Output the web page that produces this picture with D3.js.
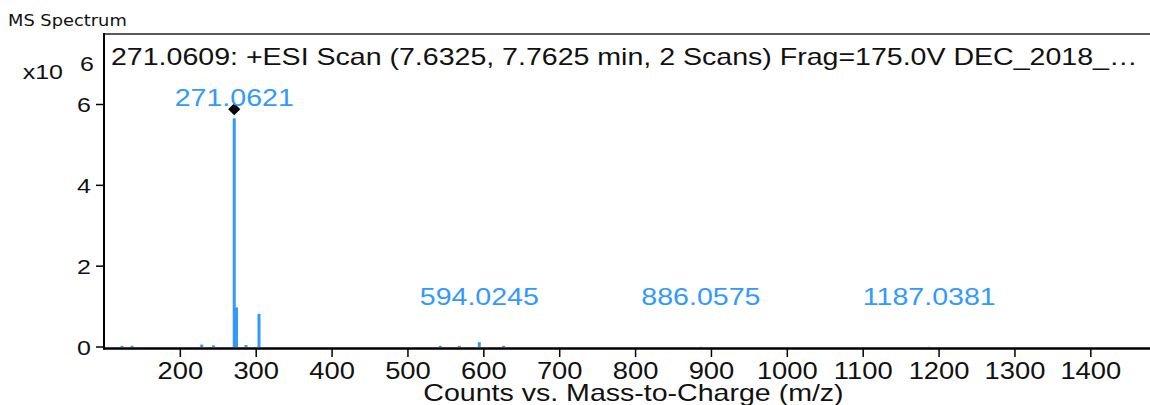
<!DOCTYPE html>
<html>
<head>
<meta charset="utf-8">
<script src="https://cdn.jsdelivr.net/npm/d3@7"></script>
<style>
  html, body { margin: 0; padding: 0; background: #fff; }
  svg { display: block; }
  text { font-family: "Liberation Sans", Arial, sans-serif; }
</style>
</head>
<body>
<script>
// Centroided peaks: m/z and abundance (counts ×10^6)
const peakMz        = [123.2, 136.4, 228.2, 243.5, 271.0621, 274.0, 286.6, 303.7, 542.6, 567.7, 594.0245, 626.0, 886.0575, 1187.0381];
const peakIntensity = [0.03,  0.03,  0.06,  0.04,  5.66,     0.98,  0.05,  0.82,  0.03,  0.03,  0.12,     0.03,  0.005,    0.005];

// Annotated peaks
const labelMz = [271.0621, 594.0245, 886.0575, 1187.0381];
const basePeakMz = 271.0621;

// Axes
const xTicks = [200, 300, 400, 500, 600, 700, 800, 900, 1000, 1100, 1200, 1300, 1400];
const yTicks = [0, 2, 4, 6];

const headerText = "271.0609: +ESI Scan (7.6325, 7.7625 min, 2 Scans) Frag=175.0V DEC_2018_\u2026";
const panelTitle = "MS Spectrum";
const xAxisTitle = "Counts vs. Mass-to-Charge (m/z)";

const W = 1150, H = 405;
const SX = 1.19; // horizontal glyph stretch used by the instrument export
const blue = "#3399ff";

const svg = d3.select("body").append("svg").attr("width", W).attr("height", H);

const x = d3.scaleLinear().domain([99.4, 1478]).range([104, 1150]);
const y = d3.scaleLinear().domain([0, 6]).range([347, 104.5]);

function label(g, px, py, str, size, anchor, fill) {
  return g.append("text")
    .attr("transform", `translate(${px},${py}) scale(${SX},1)`)
    .attr("text-anchor", anchor)
    .attr("font-size", size)
    .attr("fill", fill)
    .text(str);
}

// panel title
label(svg, 8, 26, panelTitle, 15, "start", "#111")
  .style("font-family", "'DejaVu Sans', sans-serif");

// frame top line
svg.append("line").attr("x1", 103).attr("x2", W).attr("y1", 34).attr("y2", 34)
  .attr("stroke", "#5a5a5a").attr("stroke-width", 2);

// header text
label(svg, 111, 65, headerText, 24, "start", "#111");

// peaks
const plot = svg.append("g");
plot.selectAll("line.peak")
  .data(peakMz.map((m, i) => ({ m, v: peakIntensity[i] })))
  .join("line")
  .attr("class", "peak")
  .attr("x1", d => x(d.m)).attr("x2", d => x(d.m))
  .attr("y1", y(0)).attr("y2", d => y(d.v))
  .attr("stroke", blue).attr("stroke-width", 3);

// base-peak diamond marker
const baseV = peakIntensity[peakMz.indexOf(basePeakMz)];
plot.append("path")
  .attr("d", d3.symbol(d3.symbolDiamond2, 95)())
  .attr("transform", `translate(${x(basePeakMz)},${y(baseV) - 9})`)
  .attr("fill", "#000");

// peak labels
labelMz.forEach(m => {
  const v = peakIntensity[peakMz.indexOf(m)];
  const py = Math.min(y(v) - 12, 305);
  label(plot, x(m), py, m.toFixed(4), 24, "middle", blue);
});

// y axis
svg.append("line").attr("x1", 104).attr("x2", 104).attr("y1", 33).attr("y2", 349.5)
  .attr("stroke", "#000").attr("stroke-width", 2);
const yg = svg.append("g");
yTicks.forEach(t => {
  yg.append("line").attr("x1", 96).attr("x2", 104).attr("y1", y(t)).attr("y2", y(t))
    .attr("stroke", "#000").attr("stroke-width", 1.5);
  label(yg, 91, y(t) + 7.5, String(t), 21, "end", "#111");
});
label(svg, 63, 79, "x10", 21, "end", "#111");
label(svg, 80, 71, "6", 21, "start", "#111");

// x axis
svg.append("line").attr("x1", 103).attr("x2", W).attr("y1", 348.5).attr("y2", 348.5)
  .attr("stroke", "#000").attr("stroke-width", 2.5);
const xg = svg.append("g");
xTicks.forEach(t => {
  xg.append("line").attr("x1", x(t)).attr("x2", x(t)).attr("y1", 349).attr("y2", 357)
    .attr("stroke", "#000").attr("stroke-width", 1.5);
  label(xg, x(t), 379, String(t), 23, "middle", "#111");
});
label(svg, 633.5, 401, xAxisTitle, 24, "middle", "#111");
</script>
</body>
</html>
